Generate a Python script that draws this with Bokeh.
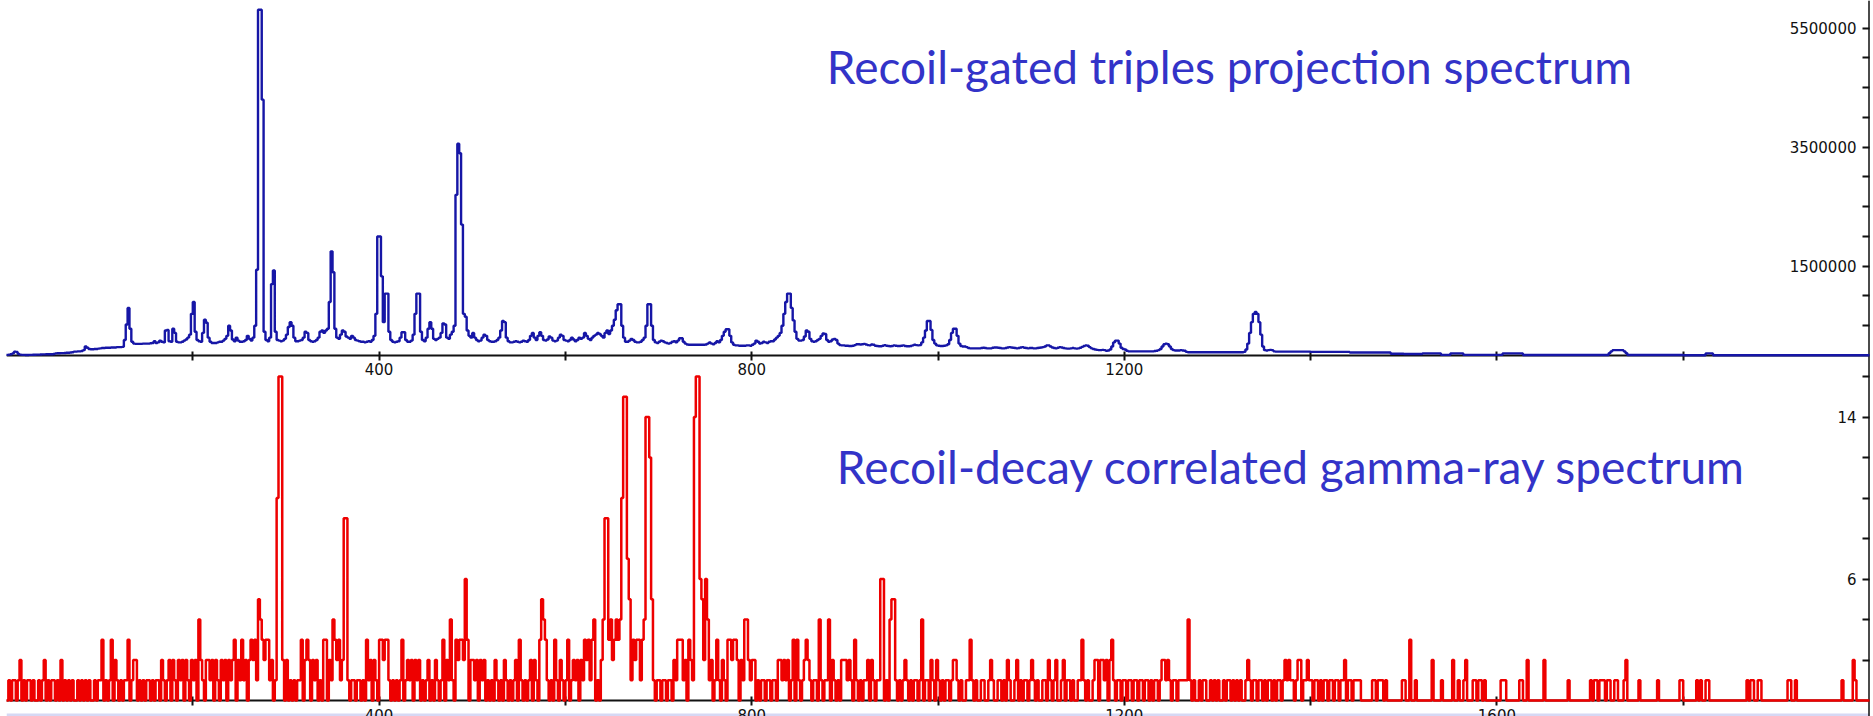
from bokeh.plotting import figure
from bokeh.models import (Range1d, LinearAxis, FixedTicker, ColumnDataSource,
                          LabelSet, Label, BoxAnnotation)
from bokeh.core.properties import value
from bokeh.embed import file_html
from bokeh.resources import INLINE

# ---------------------------------------------------------------------------
# Spectra: both histograms use 2-keV channels from 0 to 2000 keV.
# Each list below holds one 100-keV stretch (50 channels).
# ---------------------------------------------------------------------------
BIN_KEV = 2
E_MAX = 2000

# Recoil-gated triples projection, counts per channel in thousands
triples_0000 = [10, 15, 20, 35, 65, 60, 25, 15, 10, 10, 8, 8, 10, 10, 12, 12, 14, 15, 17, 18,
                18, 20, 20, 22, 22, 25, 35, 38, 38, 40, 40, 42, 45, 45, 50, 55, 65, 65, 70, 70,
                75, 90, 150, 130, 110, 105, 105, 110, 110, 115]
triples_0100 = [120, 125, 125, 130, 130, 130, 135, 135, 135, 140, 140, 140, 145, 260, 520, 800, 450, 230, 200, 195,
                195, 195, 195, 200, 200, 200, 200, 205, 210, 240, 210, 220, 250, 230, 220, 420, 430, 240, 230, 450,
                380, 230, 220, 220, 230, 250, 270, 300, 350, 700]
triples_0200 = [900, 400, 260, 240, 230, 380, 600, 550, 300, 230, 210, 210, 210, 220, 230, 230, 250, 280, 330, 500,
                420, 270, 240, 300, 250, 230, 230, 240, 260, 330, 280, 250, 300, 500, 1440, 5810, 5810, 4300, 400, 260,
                240, 300, 1200, 1430, 400, 260, 250, 240, 250, 280]
triples_0300 = [350, 480, 560, 500, 300, 240, 240, 250, 260, 300, 400, 380, 260, 240, 230, 240, 260, 300, 400, 420,
                380, 420, 450, 900, 1750, 1400, 450, 300, 280, 350, 420, 400, 320, 300, 280, 330, 300, 260, 250, 240,
                230, 230, 220, 230, 240, 230, 260, 330, 700, 2000]
triples_0400 = [2000, 1330, 560, 1040, 1040, 400, 260, 230, 220, 230, 240, 300, 390, 390, 260, 230, 230, 250, 350, 700,
                1040, 1040, 400, 260, 240, 300, 450, 560, 450, 280, 260, 280, 300, 380, 540, 520, 300, 280, 350, 400,
                500, 2700, 3560, 3400, 2200, 700, 650, 420, 330, 300]
triples_0500 = [380, 300, 260, 240, 250, 300, 350, 330, 260, 240, 230, 230, 240, 260, 300, 420, 580, 560, 300, 240,
                220, 220, 230, 240, 230, 220, 230, 250, 240, 230, 260, 330, 380, 300, 260, 330, 390, 330, 260, 250,
                270, 320, 300, 250, 240, 250, 300, 350, 330, 260]
triples_0600 = [250, 240, 260, 300, 270, 240, 260, 300, 280, 300, 380, 330, 280, 260, 300, 330, 350, 380, 360, 330,
                300, 380, 420, 360, 420, 500, 600, 760, 860, 860, 500, 300, 230, 230, 250, 280, 260, 230, 220, 220,
                230, 260, 300, 500, 860, 860, 500, 260, 220, 210]
triples_0700 = [230, 250, 240, 220, 210, 200, 210, 230, 240, 220, 250, 290, 290, 230, 200, 185, 180, 180, 180, 180,
                180, 180, 180, 180, 180, 185, 200, 220, 200, 190, 210, 240, 220, 260, 330, 400, 440, 440, 330, 220,
                180, 170, 170, 165, 165, 165, 165, 170, 170, 165]
triples_0800 = [180, 200, 250, 230, 200, 210, 230, 220, 210, 230, 240, 240, 270, 300, 330, 380, 500, 700, 900, 1040,
                1040, 800, 590, 400, 280, 250, 250, 260, 320, 420, 400, 280, 240, 230, 240, 260, 280, 330, 370, 360,
                260, 230, 240, 270, 280, 260, 200, 175, 170, 170]
triples_0900 = [165, 165, 160, 160, 165, 175, 190, 190, 185, 190, 195, 185, 175, 170, 185, 180, 165, 160, 155, 155,
                165, 175, 165, 160, 155, 160, 170, 165, 160, 160, 165, 170, 160, 155, 155, 160, 170, 180, 175, 170,
                175, 220, 300, 420, 580, 580, 430, 260, 200, 170]
triples_1000 = [165, 160, 160, 165, 170, 190, 260, 380, 450, 450, 330, 200, 160, 150, 150, 140, 125, 120, 120, 120,
                120, 120, 120, 125, 130, 125, 120, 120, 120, 130, 135, 135, 130, 125, 120, 120, 125, 135, 140, 135,
                130, 125, 120, 125, 135, 140, 130, 125, 120, 125]
triples_1100 = [125, 120, 120, 125, 130, 135, 140, 150, 170, 170, 150, 135, 125, 120, 130, 140, 135, 125, 120, 115,
                115, 120, 125, 120, 115, 120, 130, 145, 160, 170, 165, 140, 120, 110, 100, 95, 90, 90, 95, 90,
                80, 85, 100, 150, 220, 250, 250, 200, 130, 110]
triples_1200 = [100, 80, 70, 70, 70, 70, 70, 70, 70, 70, 70, 70, 70, 70, 70, 70, 75, 80, 90, 110,
                150, 190, 200, 190, 150, 110, 90, 85, 85, 85, 90, 85, 80, 60, 55, 55, 55, 55, 55, 55,
                55, 55, 55, 55, 55, 55, 55, 55, 55, 55]
triples_1300 = [55, 55, 55, 55, 55, 55, 55, 55, 55, 55, 55, 55, 55, 55, 60, 100, 200, 380, 560, 700,
                730, 700, 560, 350, 150, 90, 85, 90, 95, 90, 70, 65, 65, 65, 65, 65, 65, 65, 65, 65,
                65, 65, 65, 65, 65, 65, 65, 65, 65, 65]
triples_1400 = [60, 60, 60, 60, 60, 60, 60, 60, 60, 60, 60, 60, 60, 60, 60, 60, 60, 60, 60, 60,
                60, 50, 50, 50, 50, 50, 50, 50, 50, 50, 50, 50, 50, 50, 50, 50, 50, 50, 50, 50,
                50, 50, 50, 30, 30, 30, 30, 30, 30, 30]
triples_1500 = [25, 25, 25, 25, 25, 25, 25, 25, 25, 25, 35, 35, 35, 35, 35, 35, 35, 35, 35, 35,
                10, 10, 10, 10, 10, 35, 35, 35, 35, 35, 35, 35, 10, 10, 10, 10, 10, 10, 10, 10,
                10, 10, 10, 10, 10, 10, 10, 10, 10, 10]
triples_1600 = [10, 10, 10, 35, 35, 35, 35, 35, 35, 35, 35, 35, 35, 35, 8, 8, 8, 8, 8, 8,
                8, 8, 8, 8, 8, 8, 8, 8, 8, 8, 8, 8, 8, 8, 8, 8, 8, 8, 8, 8,
                8, 8, 8, 8, 8, 8, 8, 8, 8, 8]
triples_1700 = [8, 8, 8, 8, 8, 8, 8, 8, 8, 8, 40, 70, 90, 90, 90, 90, 90, 90, 70, 40,
                8, 8, 8, 8, 8, 8, 8, 8, 8, 8, 8, 8, 8, 8, 8, 8, 8, 8, 8, 8,
                8, 8, 8, 8, 8, 8, 8, 8, 8, 8]
triples_1800 = [5, 5, 5, 5, 5, 5, 5, 5, 5, 5, 5, 5, 35, 35, 35, 35, 5, 5, 5, 5,
                5, 5, 5, 5, 5, 5, 5, 5, 5, 5, 5, 5, 5, 5, 5, 5, 5, 5, 5, 5,
                5, 5, 5, 5, 5, 5, 5, 5, 5, 5]
triples_1900 = [3, 3, 3, 3, 3, 3, 3, 3, 3, 3, 3, 3, 3, 3, 3, 3, 3, 3, 3, 3,
                3, 3, 3, 3, 3, 3, 3, 3, 3, 3, 3, 3, 3, 3, 3, 3, 3, 3, 3, 3,
                3, 3, 3, 3, 3, 3, 3, 3, 3, 3]

# Recoil-decay correlated gamma rays, counts per channel
decay_0000 = [0, 1, 0, 1, 1, 0, 1, 2, 0, 1, 0, 1, 1, 0, 1, 0, 0, 1, 0, 1, 2, 0, 1, 0, 1,
              1, 0, 1, 0, 2, 0, 1, 0, 1, 0, 1, 0, 0, 1, 0, 1, 0, 1, 0, 1, 0, 0, 1, 0, 1]
decay_0100 = [1, 3, 0, 1, 0, 1, 3, 0, 2, 1, 0, 1, 0, 1, 1, 3, 0, 1, 2, 2, 0, 1, 0, 1, 0,
              1, 1, 0, 1, 0, 1, 1, 0, 2, 1, 0, 1, 2, 0, 2, 1, 0, 2, 1, 2, 0, 2, 1, 0, 2]
decay_0200 = [1, 2, 0, 4, 2, 1, 0, 2, 2, 1, 2, 0, 2, 1, 0, 2, 1, 2, 0, 2, 1, 2, 3, 0, 2,
              1, 3, 1, 2, 0, 2, 3, 2, 3, 1, 5, 4, 3, 2, 3, 3, 1, 2, 0, 1, 10, 16, 16, 2, 0]
decay_0300 = [2, 0, 1, 0, 1, 0, 1, 1, 3, 0, 2, 3, 2, 0, 2, 1, 2, 0, 1, 0, 3, 3, 0, 2, 1,
              4, 3, 2, 3, 1, 2, 9, 9, 1, 0, 1, 1, 0, 1, 1, 0, 1, 0, 3, 1, 2, 0, 2, 1, 0]
decay_0400 = [3, 3, 2, 3, 3, 1, 0, 1, 0, 1, 0, 1, 3, 0, 1, 2, 1, 2, 0, 2, 1, 2, 0, 1, 0,
              1, 2, 0, 1, 0, 2, 1, 0, 1, 3, 0, 2, 1, 4, 1, 0, 3, 2, 3, 3, 2, 6, 3, 0, 2]
decay_0500 = [2, 1, 2, 0, 2, 1, 2, 0, 1, 0, 1, 0, 2, 1, 0, 1, 0, 2, 1, 0, 1, 0, 1, 2, 0,
              3, 1, 0, 1, 0, 1, 2, 0, 2, 1, 0, 3, 5, 4, 3, 1, 0, 1, 0, 3, 1, 0, 2, 1, 0]
decay_0600 = [1, 3, 0, 1, 2, 1, 2, 0, 2, 1, 3, 2, 3, 1, 3, 4, 0, 1, 0, 2, 4, 9, 9, 3, 4,
              2, 3, 4, 3, 4, 10, 15, 15, 7, 5, 1, 3, 2, 3, 3, 1, 3, 4, 14, 14, 12, 5, 1, 0, 1]
decay_0700 = [1, 0, 1, 1, 0, 1, 1, 0, 2, 1, 3, 3, 3, 1, 2, 0, 3, 2, 1, 14, 16, 16, 6, 5, 2,
              6, 4, 1, 2, 0, 1, 3, 1, 0, 2, 1, 0, 3, 3, 2, 3, 3, 2, 0, 2, 1, 4, 4, 2, 1]
decay_0800 = [2, 2, 0, 1, 0, 1, 1, 0, 1, 1, 0, 1, 1, 0, 2, 2, 1, 2, 1, 2, 0, 1, 3, 0, 3,
              1, 0, 1, 2, 3, 2, 1, 0, 1, 1, 0, 4, 1, 0, 1, 1, 4, 0, 2, 1, 0, 1, 0, 2, 2]
decay_0900 = [2, 1, 2, 1, 0, 3, 1, 0, 1, 0, 1, 1, 2, 0, 2, 1, 0, 1, 1, 6, 6, 0, 1, 0, 4,
              5, 5, 1, 0, 1, 0, 1, 2, 1, 0, 1, 0, 1, 1, 0, 1, 4, 0, 1, 1, 0, 2, 1, 0, 2]
decay_1000 = [1, 0, 1, 0, 1, 1, 0, 1, 2, 2, 1, 0, 1, 0, 0, 1, 1, 3, 1, 0, 1, 0, 0, 1, 1,
              0, 0, 1, 2, 1, 0, 0, 1, 1, 0, 1, 0, 2, 1, 0, 0, 1, 2, 0, 1, 0, 1, 1, 0, 1]
decay_1100 = [2, 1, 0, 1, 0, 0, 1, 1, 0, 2, 1, 0, 1, 2, 0, 0, 1, 2, 0, 1, 1, 0, 1, 0, 0,
              1, 1, 3, 1, 0, 1, 0, 0, 1, 2, 2, 0, 2, 2, 1, 2, 0, 2, 3, 1, 0, 1, 1, 0, 1]
decay_1200 = [1, 0, 1, 1, 0, 1, 1, 0, 1, 1, 0, 1, 1, 0, 1, 0, 1, 1, 0, 1, 2, 2, 1, 2, 1,
              0, 1, 1, 0, 1, 1, 1, 1, 1, 4, 1, 0, 1, 0, 0, 1, 0, 1, 1, 0, 0, 1, 0, 1, 0]
decay_1300 = [1, 0, 0, 1, 0, 1, 1, 0, 1, 0, 1, 0, 1, 0, 0, 1, 2, 1, 0, 1, 1, 0, 1, 1, 0,
              1, 0, 1, 1, 0, 1, 0, 1, 1, 0, 1, 2, 1, 2, 1, 1, 0, 1, 2, 2, 0, 1, 1, 2, 1]
decay_1400 = [1, 0, 1, 1, 0, 1, 0, 1, 1, 0, 1, 1, 0, 1, 1, 0, 1, 1, 2, 0, 1, 1, 0, 1, 1,
              1, 1, 0, 0, 0, 0, 0, 0, 1, 1, 0, 1, 1, 1, 0, 1, 0, 0, 0, 0, 0, 0, 0, 0, 1]
decay_1500 = [1, 0, 0, 3, 0, 0, 1, 0, 0, 0, 0, 0, 0, 0, 0, 2, 0, 0, 0, 0, 1, 0, 0, 0, 0,
              0, 2, 0, 0, 1, 0, 0, 1, 2, 0, 0, 0, 1, 1, 0, 1, 1, 0, 1, 0, 0, 0, 0, 0, 0]
decay_1600 = [0, 0, 1, 1, 1, 0, 0, 0, 0, 0, 0, 0, 1, 1, 0, 0, 2, 0, 0, 0, 0, 0, 0, 0, 0,
              2, 0, 0, 0, 0, 0, 0, 0, 0, 0, 0, 0, 0, 1, 0, 0, 0, 0, 0, 0, 0, 0, 0, 0, 0]
decay_1700 = [1, 0, 1, 1, 0, 1, 1, 1, 0, 1, 1, 0, 0, 1, 1, 0, 0, 0, 1, 2, 0, 0, 0, 0, 0,
              0, 1, 0, 0, 0, 0, 0, 0, 0, 0, 0, 1, 0, 0, 0, 0, 0, 0, 0, 0, 0, 0, 0, 1, 1]
decay_1800 = [0, 0, 0, 0, 0, 0, 0, 1, 0, 1, 0, 0, 1, 1, 0, 0, 0, 0, 0, 0, 0, 0, 0, 0, 0,
              0, 0, 0, 0, 0, 0, 0, 0, 0, 1, 0, 1, 1, 0, 0, 1, 1, 0, 0, 0, 0, 0, 0, 0, 0]
decay_1900 = [0, 0, 0, 0, 0, 0, 1, 1, 0, 0, 1, 0, 0, 0, 0, 0, 0, 0, 0, 0, 0, 0, 0, 0, 0,
              0, 0, 0, 0, 0, 0, 0, 0, 0, 0, 1, 0, 0, 0, 0, 0, 2, 1, 0, 0, 0, 0, 0, 0, 0]

# Axis ticks and the tick values that carry a printed label
x_ticks = [200, 400, 600, 800, 1000, 1200, 1400, 1600, 1800]
x_labels_upper = [400, 800, 1200]
x_labels_lower = [400, 800, 1200, 1600]
y_ticks_upper = [500000, 1000000, 1500000, 2000000, 2500000, 3000000,
                 3500000, 4000000, 4500000, 5000000, 5500000]
y_labels_upper = [1500000, 3500000, 5500000]
y_ticks_lower = [2, 4, 6, 8, 10, 12, 14, 16]
y_labels_lower = [6, 14]

title_upper = "Recoil-gated triples projection spectrum"
title_lower = "Recoil-decay correlated gamma-ray spectrum"

# ---------------------------------------------------------------------------
triples_segments = [triples_0000, triples_0100, triples_0200, triples_0300, triples_0400,
                    triples_0500, triples_0600, triples_0700, triples_0800, triples_0900,
                    triples_1000, triples_1100, triples_1200, triples_1300, triples_1400,
                    triples_1500, triples_1600, triples_1700, triples_1800, triples_1900]
decay_segments = [decay_0000, decay_0100, decay_0200, decay_0300, decay_0400,
                  decay_0500, decay_0600, decay_0700, decay_0800, decay_0900,
                  decay_1000, decay_1100, decay_1200, decay_1300, decay_1400,
                  decay_1500, decay_1600, decay_1700, decay_1800, decay_1900]

triples = [v * 1000 for seg in triples_segments for v in seg]
decay = [v for seg in decay_segments for v in seg]


def histogram_source(counts):
    edges = [i * BIN_KEV for i in range(len(counts) + 1)]
    return ColumnDataSource(dict(x=edges, y=counts + [counts[-1]]))


AXIS_COLOR = "#111111"
LABEL_FONT = "DejaVu Sans"
TITLE_FONT = "Lato"
TITLE_COLOR = "#3333C8"

p = figure(width=1873, height=716,
           x_range=Range1d(0, E_MAX), y_range=Range1d(-0.79, 34.57),
           x_axis_location=None, y_axis_location=None,
           min_border_left=6, min_border_right=4, min_border_top=0, min_border_bottom=0,
           output_backend="svg", toolbar_location=None,
           background_fill_color="white", border_fill_color="white",
           outline_line_color=None)
p.xgrid.visible = False
p.ygrid.visible = False
p.extra_y_ranges = {"upper": Range1d(-6067000, 5966000)}

# Pale strip along the lower edge of the page
p.add_layout(BoxAnnotation(top=-0.64, fill_color="#D6D8F4", fill_alpha=1.0,
                           line_color=None, level="underlay"))

# Horizontal (energy) axes of both panels, each sitting at zero counts
for range_name, labelled in (("upper", x_labels_upper), ("default", x_labels_lower)):
    ax = LinearAxis(y_range_name=range_name, fixed_location=0,
                    ticker=FixedTicker(ticks=x_ticks),
                    major_label_overrides={t: (str(t) if t in labelled else "") for t in x_ticks},
                    axis_line_color=AXIS_COLOR, axis_line_width=2,
                    major_tick_line_color=AXIS_COLOR, major_tick_line_width=2,
                    major_tick_in=4, major_tick_out=5,
                    minor_tick_line_color=None,
                    major_label_standoff=3,
                    major_label_text_font=LABEL_FONT,
                    major_label_text_font_size="15px",
                    major_label_text_color=AXIS_COLOR)
    p.add_layout(ax, "below")

# Vertical count axes on the right edge
for range_name, ticks in (("upper", y_ticks_upper), ("default", y_ticks_lower)):
    ay = LinearAxis(y_range_name=range_name, fixed_location=E_MAX,
                    ticker=FixedTicker(ticks=ticks),
                    major_label_overrides={t: "" for t in ticks},
                    axis_line_color=AXIS_COLOR, axis_line_width=2,
                    major_tick_line_color=AXIS_COLOR, major_tick_line_width=2,
                    major_tick_in=7, major_tick_out=3,
                    minor_tick_line_color=None)
    p.add_layout(ay, "right")

# Count labels, printed just inside the right axis
for range_name, labels in (("upper", y_labels_upper), ("default", y_labels_lower)):
    src = ColumnDataSource(dict(x=[E_MAX] * len(labels), y=labels,
                                text=[str(v) for v in labels]))
    p.add_layout(LabelSet(x="x", y="y", text="text", source=src, y_range_name=range_name,
                          x_offset=-13, text_align="right", text_baseline="middle",
                          text_font=value(LABEL_FONT), text_font_size=value("15px"),
                          text_color=AXIS_COLOR))

# The two spectra
r_top = p.step(x="x", y="y", source=histogram_source(triples), mode="after",
               y_range_name="upper", line_color="#1616A6", line_width=2.4)
r_bot = p.step(x="x", y="y", source=histogram_source(decay), mode="after",
               line_color="#EE0000", line_width=2.5)
r_top.level = "overlay"
r_bot.level = "overlay"

# Panel titles
p.add_layout(Label(x=1229 - 6, y=716 - 85 + 19, x_units="screen", y_units="screen",
                   text=title_upper, text_align="center", text_baseline="alphabetic",
                   text_font=TITLE_FONT, text_font_size="46px", text_color=TITLE_COLOR))
p.add_layout(Label(x=1291 - 6, y=716 - 485 + 19, x_units="screen", y_units="screen",
                   text=title_lower, text_align="center", text_baseline="alphabetic",
                   text_font=TITLE_FONT, text_font_size="46px", text_color=TITLE_COLOR))

open("out.html", "w").write(file_html(p, INLINE))
